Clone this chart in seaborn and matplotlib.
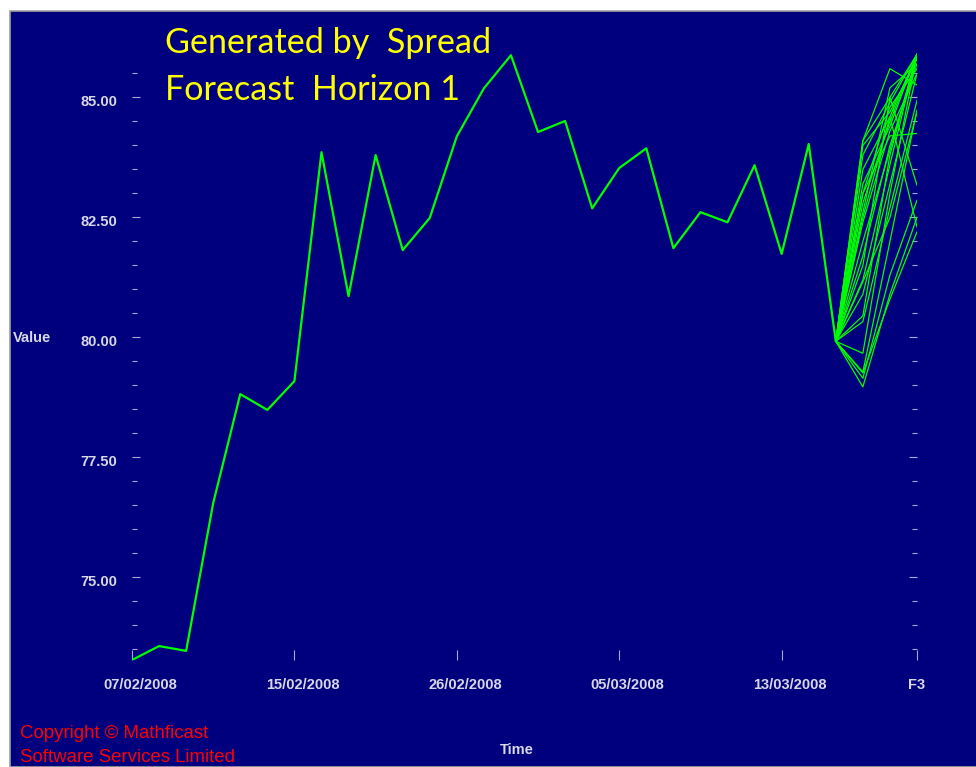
import matplotlib
matplotlib.use('Agg')
import numpy as np
import pandas as pd
import matplotlib.pyplot as plt
import seaborn as sns
from matplotlib.patches import Rectangle
from matplotlib.ticker import MultipleLocator
from matplotlib.transforms import ScaledTranslation

# trading days shown on the chart (index based x axis)
dates = ['07/02/2008', '08/02/2008', '11/02/2008', '12/02/2008', '13/02/2008',
         '14/02/2008', '15/02/2008', '19/02/2008', '20/02/2008', '21/02/2008',
         '22/02/2008', '25/02/2008', '26/02/2008', '27/02/2008', '28/02/2008',
         '29/02/2008', '03/03/2008', '04/03/2008', '05/03/2008', '06/03/2008',
         '07/03/2008', '10/03/2008', '11/03/2008', '12/03/2008', '13/03/2008',
         '14/03/2008', '17/03/2008']
horizons = ['F1', 'F2', 'F3']

values = [73.28, 73.57, 73.47, 76.55, 78.82, 78.49, 79.09, 83.86, 80.86, 83.80,
          81.82, 82.49, 84.19, 85.19, 85.88, 84.28, 84.51, 82.69, 83.53, 83.94,
          81.86, 82.61, 82.40, 83.59, 81.74, 84.03, 79.92]

# simulated forecast paths (one value per horizon)
f1 = [84.10, 84.10, 83.80, 83.50, 83.00, 82.80, 82.40, 82.00, 81.70, 81.20, 80.90,
      80.45, 80.33, 81.50, 79.67, 79.28, 79.15, 78.97, 79.26, 82.50, 83.00, 81.16,
      84.00, 83.20, 82.60]
f2 = [85.60, 85.00, 84.90, 84.60, 84.80, 84.50, 84.30, 83.90, 84.00, 83.60, 83.20,
      83.80, 82.70, 85.00, 83.00, 82.00, 81.30, 80.90, 80.80, 84.60, 84.20, 82.50,
      84.70, 84.40, 85.20]
f3 = [85.26, 85.90, 85.90, 85.90, 85.60, 85.90, 85.50, 85.90, 85.70, 85.90, 85.50,
      85.90, 84.94, 83.17, 85.90, 84.74, 82.86, 82.50, 82.20, 82.30, 84.25, 84.70,
      85.80, 85.90, 85.70]

hist = pd.DataFrame({'t': np.arange(len(values)), 'value': values})
last_t = len(values) - 1
rows = []
for i in range(len(f1)):
    rows.append((i, last_t, values[-1]))
    rows.append((i, last_t + 1, f1[i]))
    rows.append((i, last_t + 2, f2[i]))
    rows.append((i, last_t + 3, f3[i]))
fc = pd.DataFrame(rows, columns=['path', 't', 'value'])

navy = '#00007f'
tick_col = '#a8a8d0'
lab_col = '#d8d8e4'

sns.set_theme(style='dark')
plt.rcParams['font.family'] = ['Liberation Sans', 'DejaVu Sans']

fig = plt.figure(figsize=(9.76, 7.67), dpi=100, facecolor='white')
fig.patches.append(Rectangle((9.5 / 976, 0), 1, 1 - 10.5 / 767, transform=fig.transFigure,
                             facecolor=navy, edgecolor='#a0a0a0', lw=1.2, zorder=-10))
ax = fig.add_axes([132 / 976, (767 - 660) / 767, (917 - 132) / 976, (660 - 53.3) / 767])
ax.set_facecolor('none')

sns.lineplot(data=fc, x='t', y='value', units='path', estimator=None,
             color='#00ff00', lw=0.9, ax=ax)
sns.lineplot(data=hist, x='t', y='value', color='#00ff00', lw=1.6, ax=ax)

ax.set_xlim(0, last_t + 3)
ax.set_ylim(73.28, 85.92)
for s in ax.spines.values():
    s.set_visible(False)
ax.grid(False)
ax.set_xlabel('')
ax.set_ylabel('')

pos = [0, 6, 12, 18, 24, last_t + 3]
ax.set_xticks(pos)
ax.set_xticklabels([dates[p] for p in pos[:-1]] + [horizons[-1]])
ax.yaxis.set_major_locator(MultipleLocator(2.5))
ax.yaxis.set_minor_locator(MultipleLocator(0.5))
ax.yaxis.set_major_formatter(matplotlib.ticker.FormatStrFormatter('%.2f'))

ax.tick_params(axis='x', which='major', direction='in', length=7, width=0.8,
               color=tick_col, labelcolor=lab_col, labelsize=10.5, pad=13,
               bottom=True)
ax.tick_params(axis='y', which='major', direction='in', length=6, width=0.8,
               color=tick_col, labelcolor=lab_col, labelsize=10.5, pad=10.5,
               left=True, right=True)
ax.tick_params(axis='y', which='minor', direction='in', length=3.6, width=0.8,
               color=tick_col, left=True, right=True)
for lab in ax.get_xticklabels() + ax.get_yticklabels():
    lab.set_fontweight('bold')
for lab in ax.get_xticklabels()[:-1]:
    lab.set_transform(lab.get_transform() + ScaledTranslation(0.08, 0, fig.dpi_scale_trans))
for lab in ax.get_yticklabels():
    lab.set_transform(lab.get_transform() + ScaledTranslation(0, -0.03, fig.dpi_scale_trans))

fig.text(13 / 976, 1 - 338 / 767, 'Value', color=lab_col, fontsize=10.5,
         fontweight='bold', ha='left', va='center')
fig.text(517 / 976, 1 - 750 / 767, 'Time', color=lab_col, fontsize=10.5,
         fontweight='bold', ha='center', va='center')

fig.text(165 / 976, 1 - 53 / 767, 'Generated by  Spread', color='#ffff00',
         fontsize=24.6, family='Lato', ha='left', va='baseline')
fig.text(165 / 976, 1 - 100 / 767, 'Forecast  Horizon 1', color='#ffff00',
         fontsize=24.6, family='Lato', ha='left', va='baseline')

fig.text(20 / 976, 1 - 733 / 767, 'Copyright © Mathficast', color='#ff0000',
         fontsize=13.4, ha='left', va='center')
fig.text(20 / 976, 1 - 757 / 767, 'Software Services Limited', color='#ff0000',
         fontsize=13.4, ha='left', va='center')

fig.savefig('out.png', dpi=100, facecolor='white')
